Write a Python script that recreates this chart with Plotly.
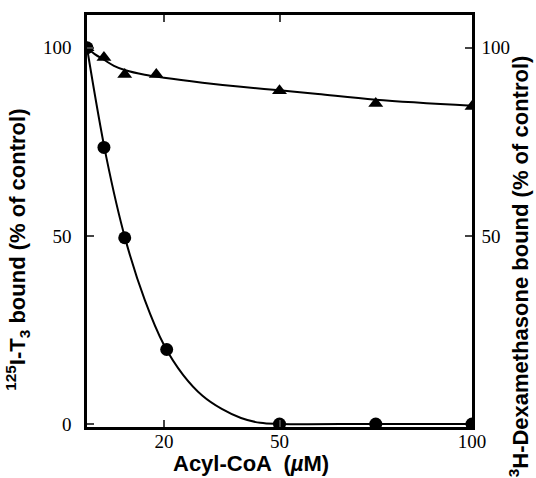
import plotly.graph_objects as go

# Acyl-CoA concentration (µM)
t3_x = [0, 4.4, 9.8, 20.7, 50, 75, 100]
t3_y = [100, 73.5, 49.5, 19.8, 0, 0, 0]
dex_x = [0, 4.4, 9.8, 18, 50, 75, 100]
dex_y = [100, 97.4, 92.9, 92.9, 88.6, 85.2, 84.4]

# fitted curves
t3_fit_x = [0, 5, 10, 15, 20, 25, 30, 35, 40, 45, 50, 75, 100]
t3_fit_y = [100, 71, 49, 33, 21, 13, 7.5, 4, 1.6, 0.3, 0, 0, 0]
dex_fit_x = [0, 2, 4.4, 7, 10, 15, 20, 30, 40, 50, 60, 75, 100]
dex_fit_y = [100, 98.3, 96.8, 95.2, 94.0, 92.8, 92.0, 90.7, 89.6, 88.7, 87.7, 86.2, 84.6]

x_ticks = [20, 50, 100]
y_ticks_left = [0, 50, 100]
y_ticks_right = [50, 100]

fig = go.Figure()
fig.add_trace(go.Scatter(x=t3_fit_x, y=t3_fit_y, mode="lines", line=dict(color="black", width=2, shape="spline"), showlegend=False, hoverinfo="skip"))
fig.add_trace(go.Scatter(x=dex_fit_x, y=dex_fit_y, mode="lines", line=dict(color="black", width=2, shape="spline"), showlegend=False, hoverinfo="skip", yaxis="y2"))
fig.add_trace(go.Scatter(x=dex_x, y=dex_y, mode="markers", marker=dict(symbol="triangle-up", size=13, color="black"), showlegend=False, yaxis="y2"))
fig.add_trace(go.Scatter(x=t3_x, y=t3_y, mode="markers", marker=dict(symbol="circle", size=13, color="black"), showlegend=False))

serif = "Liberation Serif, Times New Roman, serif"
tickfont = dict(family=serif, size=19, color="black")
yr = [-0.8, 108.7]
fig.update_layout(
    width=536, height=478,
    margin=dict(l=87, r=64, t=13, b=51),
    paper_bgcolor="white", plot_bgcolor="white",
    font=dict(family=serif, size=19, color="black"),
    xaxis=dict(range=[0, 100], tickvals=x_ticks, ticks="inside", ticklen=7, tickwidth=2,
               showline=True, linewidth=2.5, linecolor="black", mirror="ticks",
               showgrid=False, zeroline=False, tickfont=tickfont, ticklabelstandoff=-5),
    yaxis=dict(range=yr, tickvals=y_ticks_left, ticks="inside", ticklen=7, tickwidth=2,
               showline=True, linewidth=2.5, linecolor="black",
               showgrid=False, zeroline=False, tickfont=tickfont, ticklabelstandoff=9),
    yaxis2=dict(range=yr, tickvals=y_ticks_right, ticks="inside", ticklen=7, tickwidth=2,
                showline=True, linewidth=2.5, linecolor="black", overlaying="y", side="right",
                showgrid=False, zeroline=False, tickfont=tickfont, ticklabelstandoff=3),
)

titlefont = dict(family="Liberation Sans, Arial, sans-serif", size=22, color="black")
fig.add_annotation(text="<b>Acyl-CoA  (<i>µ</i>M)</b>", xref="paper", yref="paper", x=0.425, y=0,
                   yshift=-36, showarrow=False, font=titlefont, yanchor="middle")
fig.add_annotation(text="<b><sup>125</sup>I-T<sub>3</sub> bound (% of control)</b>", xref="paper", yref="paper",
                   x=0, xshift=-69, y=0.43, textangle=-90, showarrow=False, font=titlefont, xanchor="center")
fig.add_annotation(text="<b><sup>3</sup>H-Dexamethasone bound (% of control)</b>", xref="paper", yref="paper",
                   x=1, xshift=47, y=0.39, textangle=-90, showarrow=False, font=titlefont, xanchor="center")

fig.write_html("out.html")
